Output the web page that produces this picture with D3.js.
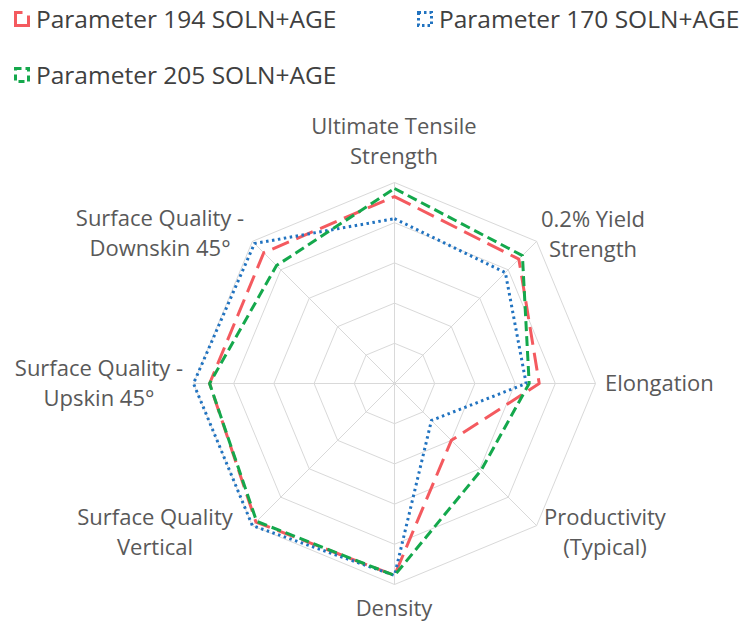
<!DOCTYPE html>
<html>
<head>
<meta charset="utf-8">
<script src="https://cdn.jsdelivr.net/npm/d3@7"></script>
<style>
  body { margin: 0; background: #fff; }
  text { font-family: "Open Sans", sans-serif; }
</style>
</head>
<body>
<script>
var width = 741,
    height = 622;

// axes, clockwise from top
var axes = [
  ["Ultimate Tensile", "Strength"],
  ["0.2% Yield", "Strength"],
  ["Elongation"],
  ["Productivity", "(Typical)"],
  ["Density"],
  ["Surface Quality", "Vertical"],
  ["Surface Quality -", "Upskin 45°"],
  ["Surface Quality -", "Downskin 45°"]
];

var p194 = [0.93, 0.875, 0.72, 0.40, 0.955, 0.975, 0.92, 0.92];
var p170 = [0.82, 0.78, 0.655, 0.26, 0.955, 1.0, 1.0, 0.985];
var p205 = [0.97, 0.90, 0.67, 0.61, 0.955, 0.97, 0.92, 0.83];

var seriesNames = ["Parameter 194 SOLN+AGE", "Parameter 170 SOLN+AGE", "Parameter 205 SOLN+AGE"];
var ringTicks = [0.2, 0.4, 0.6, 0.8, 1.0];

var series = [
  {name: seriesNames[0], values: p194, color: "#f45a5f", dash: "18 8"},
  {name: seriesNames[1], values: p170, color: "#2173c0", dash: "2.5 3.5"},
  {name: seriesNames[2], values: p205, color: "#14a84c", dash: "10 5"}
];

var cx = 394.5, cy = 383.5;

var r = d3.scaleLinear().domain([0, 1]).range([0, 201]);
var angle = d3.scaleLinear().domain([0, axes.length]).range([0, 2 * Math.PI]);

var svg = d3.select("body").append("svg")
    .attr("width", width)
    .attr("height", height);

var g = svg.append("g").attr("transform", "translate(" + cx + "," + cy + ")");

function pt(i, v) {
  var a = angle(i);
  return [Math.sin(a) * r(v), -Math.cos(a) * r(v)];
}

// grid rings
g.selectAll(".ring").data(ringTicks)
  .enter().append("polygon")
    .attr("class", "ring")
    .attr("points", function(t) { return axes.map(function(d, i) { return pt(i, t).join(","); }).join(" "); })
    .attr("fill", "none")
    .attr("stroke", "#d9d9d9")
    .attr("stroke-width", 1);

// spokes
g.selectAll(".spoke").data(axes)
  .enter().append("line")
    .attr("class", "spoke")
    .attr("x1", 0).attr("y1", 0)
    .attr("x2", function(d, i) { return pt(i, 1)[0]; })
    .attr("y2", function(d, i) { return pt(i, 1)[1]; })
    .attr("stroke", "#d9d9d9")
    .attr("stroke-width", 1);

var radial = d3.lineRadial()
    .angle(function(d, i) { return angle(i); })
    .radius(function(d) { return r(d); })
    .curve(d3.curveLinearClosed);

g.selectAll(".series").data(series)
  .enter().append("path")
    .attr("class", "series")
    .attr("d", function(d) { return radial(d.values); })
    .attr("fill", "none")
    .attr("stroke", function(d) { return d.color; })
    .attr("stroke-width", 3)
    .attr("stroke-dasharray", function(d) { return d.dash; })
    .attr("stroke-linejoin", "round");

// axis labels (placed by hand like the original)
var labelPos = [
  {x: 394, y: 134, anchor: "middle"},
  {x: 593, y: 227, anchor: "middle"},
  {x: 605, y: 391, anchor: "start"},
  {x: 605, y: 525, anchor: "middle"},
  {x: 394, y: 616, anchor: "middle"},
  {x: 155, y: 525, anchor: "middle"},
  {x: 99, y: 376, anchor: "middle"},
  {x: 160, y: 226, anchor: "middle"}
];

svg.selectAll(".axis-label").data(axes)
  .enter().append("text")
    .attr("class", "axis-label")
    .attr("x", function(d, i) { return labelPos[i].x; })
    .attr("y", function(d, i) { return labelPos[i].y; })
    .attr("text-anchor", function(d, i) { return labelPos[i].anchor; })
    .attr("fill", "#595959")
    .style("font-size", "22px")
    .each(function(d, i) {
      var t = d3.select(this);
      d.forEach(function(line, j) {
        t.append("tspan")
          .attr("x", labelPos[i].x)
          .attr("dy", j == 0 ? 0 : 30)
          .text(line);
      });
    });

// legend
var legendPos = [[14, 11], [417, 11], [14, 67]];

var legend = svg.selectAll(".legend").data(series)
  .enter().append("g")
    .attr("class", "legend")
    .attr("transform", function(d, i) { return "translate(" + legendPos[i][0] + "," + legendPos[i][1] + ")"; });

legend.append("rect")
    .attr("x", 1.5).attr("y", 1.5)
    .attr("width", 13).attr("height", 13)
    .attr("fill", "none")
    .attr("stroke", function(d) { return d.color; })
    .attr("stroke-width", 3)
    .attr("stroke-dasharray", function(d, i) { return i == 0 ? "7 9 40" : i == 1 ? "2.5 3" : "6 4"; });

legend.append("text")
    .attr("x", 22)
    .attr("y", 17)
    .attr("fill", "#404040")
    .style("font-size", "24.5px")
    .text(function(d) { return d.name; });
</script>
</body>
</html>
